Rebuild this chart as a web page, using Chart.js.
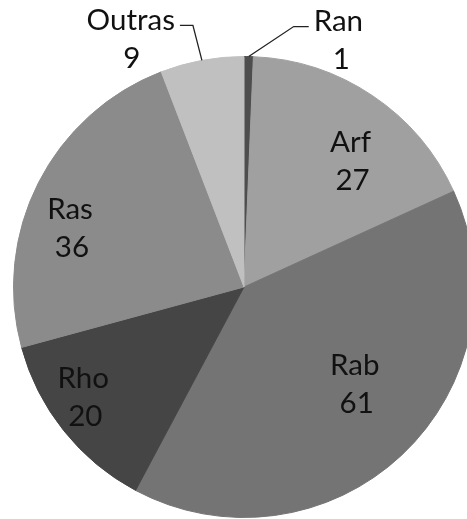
<!DOCTYPE html>
<html>
<head>
<meta charset="utf-8">
<script src="https://cdn.jsdelivr.net/npm/chart.js@4/dist/chart.umd.min.js"></script>
<style>
  html, body { margin: 0; padding: 0; background: #fff; overflow: hidden; }
  #wrap { width: 490px; height: 519px; }
</style>
</head>
<body>
<div id="wrap"><canvas id="pie" width="490" height="519"></canvas></div>
<script>
const families = ['Ran', 'Arf', 'Rab', 'Rho', 'Ras', 'Outras']
const counts = [1, 27, 61, 20, 36, 9]
const shades = ['#4e4e4e', '#a0a0a0', '#747474', '#454545', '#8b8b8b', '#c0c0c0']

const labelFont = '29.5px Lato'
const lineGap = 38

// inside labels sit near the middle of the slice, nudged a little like the office chart does
const insideNudge = {
    Arf: [14, 12],
    Rab: [-3, -23],
    Rho: [-31, 7],
    Ras: [-26, 17]
}
// thin slices get their label outside, hooked up with a leader line
const outsideLeader = {
    Ran: { elbow: [45, -30], run: 15 },
    Outras: { elbow: [-9, -35], run: -13 }
}

const pieLabels = {
    id: 'pieLabels',
    afterDatasetsDraw(chart) {
        const c = chart.ctx
        const arcs = chart.getDatasetMeta(0).data
        c.save()
        c.font = labelFont
        c.fillStyle = '#111'
        c.textAlign = 'center'
        c.textBaseline = 'middle'
        arcs.forEach(function(arc, i) {
            const name = families[i]
            const mid = (arc.startAngle + arc.endAngle) / 2
            if (outsideLeader[name]) {
                const o = outsideLeader[name]
                const ex = arc.x + Math.cos(mid) * arc.outerRadius
                const ey = arc.y + Math.sin(mid) * arc.outerRadius
                const bx = ex + o.elbow[0]
                const by = ey + o.elbow[1]
                const tx = bx + o.run
                c.strokeStyle = '#222'
                c.lineWidth = 1.3
                c.beginPath()
                c.moveTo(ex, ey)
                c.lineTo(bx, by)
                c.lineTo(tx, by)
                c.stroke()
                const w = c.measureText(name).width
                const cx = o.run > 0 ? tx + 5 + w / 2 : tx - 5 - w / 2
                c.fillText(name, cx, by - 5)
                c.fillText(String(counts[i]), cx + (o.run > 0 ? 3 : 1), by + 33)
            } else {
                const r = arc.outerRadius * 0.72
                const n = insideNudge[name] || [0, 0]
                const x = arc.x + Math.cos(mid) * r + n[0]
                const y = arc.y + Math.sin(mid) * r + n[1]
                c.fillText(name, x, y - lineGap / 2)
                c.fillText(String(counts[i]), x + 2, y + lineGap / 2)
            }
        })
        c.restore()
    }
}

new Chart(document.getElementById('pie'), {
    type: 'pie',
    data: {
        labels: families,
        datasets: [{
            data: counts,
            backgroundColor: shades,
            borderColor: shades,
            borderWidth: 1
        }]
    },
    options: {
        responsive: false,
        animation: false,
        layout: { padding: { left: 13, right: 15, top: 56, bottom: 1 } },
        plugins: {
            legend: { display: false },
            tooltip: { enabled: false }
        }
    },
    plugins: [pieLabels]
})
</script>
</body>
</html>
